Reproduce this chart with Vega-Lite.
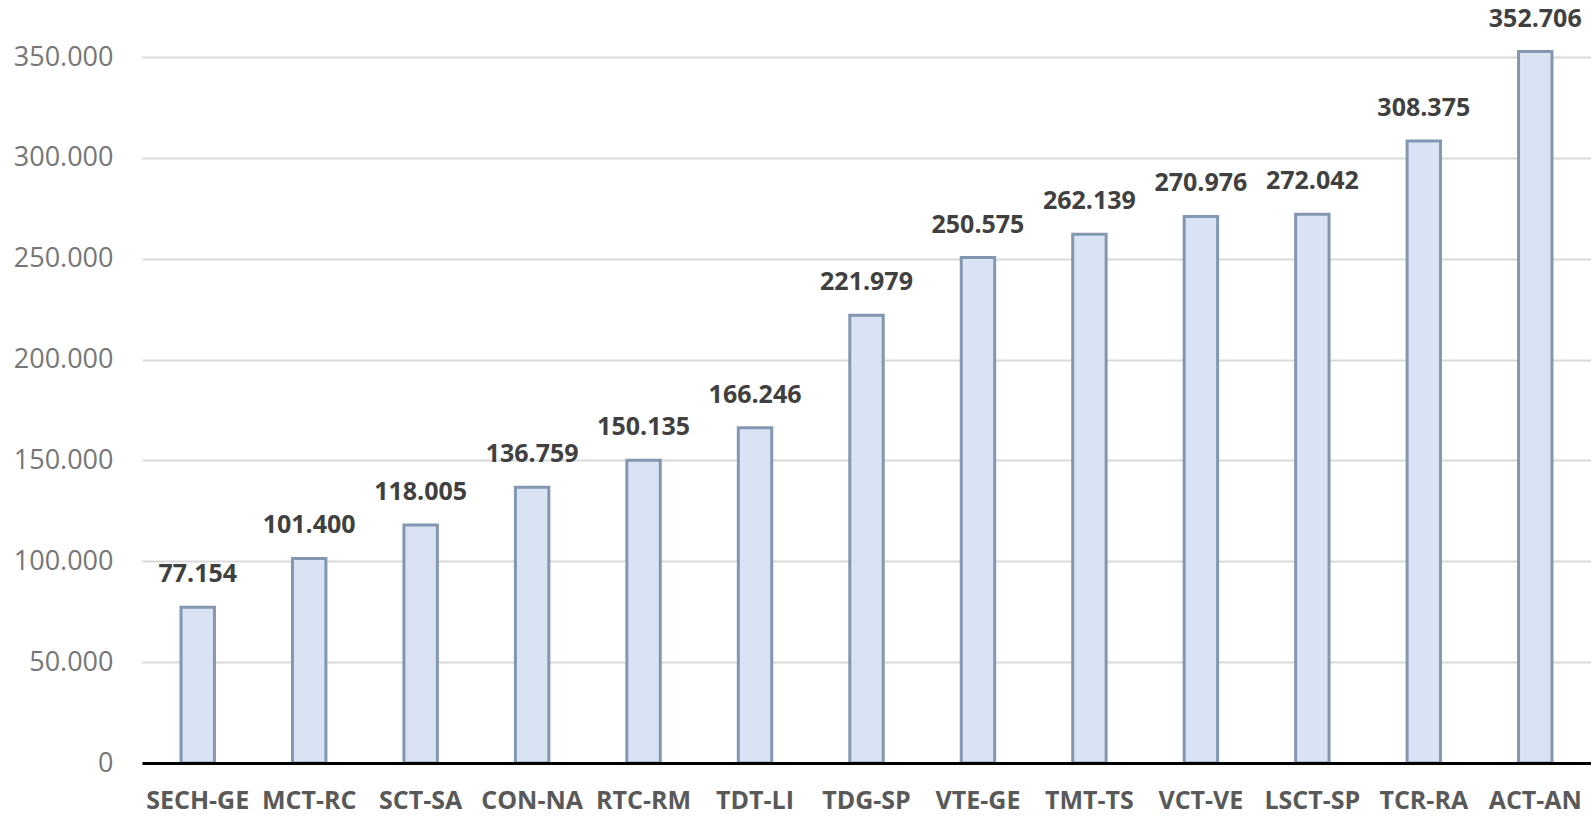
{
  "$schema": "https://vega.github.io/schema/vega-lite/v6.json",
  "width": 1449,
  "height": 763,
  "padding": {"left": 142, "top": 0, "right": 0, "bottom": 53},
  "autosize": {"type": "none"},
  "background": "#ffffff",
  "config": {
    "view": {"stroke": null},
    "locale": {
      "number": {"decimal": ",", "thousands": ".", "grouping": [3], "currency": ["", " €"]}
    },
    "font": "Open Sans"
  },
  "data": {
    "values": [
      {"sigla": "SECH-GE", "valore": 77154},
      {"sigla": "MCT-RC", "valore": 101400},
      {"sigla": "SCT-SA", "valore": 118005},
      {"sigla": "CON-NA", "valore": 136759},
      {"sigla": "RTC-RM", "valore": 150135},
      {"sigla": "TDT-LI", "valore": 166246},
      {"sigla": "TDG-SP", "valore": 221979},
      {"sigla": "VTE-GE", "valore": 250575},
      {"sigla": "TMT-TS", "valore": 262139},
      {"sigla": "VCT-VE", "valore": 270976},
      {"sigla": "LSCT-SP", "valore": 272042},
      {"sigla": "TCR-RA", "valore": 308375},
      {"sigla": "ACT-AN", "valore": 352706}
    ]
  },
  "encoding": {
    "x": {
      "field": "sigla",
      "type": "nominal",
      "sort": null,
      "scale": {"paddingInner": 0.7, "paddingOuter": 0.35},
      "axis": {
        "title": null,
        "labelAngle": 0,
        "labelFont": "Open Sans",
        "labelFontSize": 25,
        "labelFontWeight": "bold",
        "labelColor": "#595959",
        "labelPadding": 25,
        "ticks": false,
        "domainColor": "#000000",
        "domainWidth": 3,
        "grid": false,
        "zindex": 1
      }
    },
    "y": {
      "field": "valore",
      "type": "quantitative",
      "scale": {"domain": [0, 378258], "nice": false},
      "axis": {
        "title": null,
        "values": [0, 50000, 100000, 150000, 200000, 250000, 300000, 350000],
        "format": ",d",
        "labelFont": "Open Sans",
        "labelFontSize": 27,
        "labelColor": "#767676",
        "labelPadding": 29,
        "ticks": false,
        "domain": false,
        "gridColor": "#d9d9d9",
        "gridWidth": 2
      }
    }
  },
  "layer": [
    {
      "mark": {"type": "bar", "fill": "#dae3f3", "stroke": "#8497b0", "strokeWidth": 3}
    },
    {
      "mark": {
        "type": "text",
        "baseline": "alphabetic",
        "dy": -25,
        "font": "Open Sans",
        "fontSize": 25,
        "fontWeight": "bold",
        "fill": "#404040"
      },
      "encoding": {
        "text": {"field": "valore", "type": "quantitative", "format": ",d"}
      }
    }
  ]
}
